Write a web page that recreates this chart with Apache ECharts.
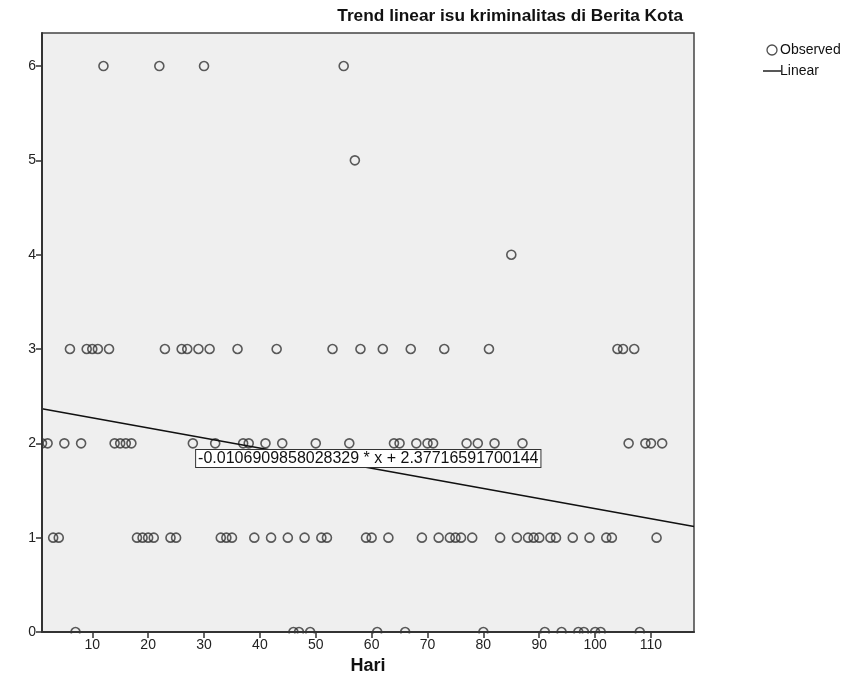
<!DOCTYPE html>
<html>
<head>
<meta charset="utf-8">
<script src="https://cdn.jsdelivr.net/npm/echarts@6/dist/echarts.min.js"></script>
<style>
html,body{margin:0;padding:0;background:#fff;}
#chart{width:852px;height:696px;}
</style>
</head>
<body>
<div id="chart"></div>
<script>
// ---- data ----
const days = [1,2,3,4,5,6,7,8,9,10,11,12,13,14,15,16,17,18,19,20,21,22,23,24,25,26,27,28,29,30,31,32,33,34,35,36,37,38,39,41,42,43,44,45,46,47,48,49,50,51,52,53,55,56,57,58,59,60,61,62,63,64,65,66,67,68,69,70,71,72,73,74,75,76,77,78,79,80,81,82,83,85,86,87,88,89,90,91,92,93,94,96,97,98,99,100,101,102,103,104,105,106,107,108,109,110,111,112];
const counts = [2,2,1,1,2,3,0,2,3,3,3,6,3,2,2,2,2,1,1,1,1,6,3,1,1,3,3,2,3,6,3,2,1,1,1,3,2,2,1,2,1,3,2,1,0,0,1,0,2,1,1,3,6,2,5,3,1,1,0,3,1,2,2,0,3,2,1,2,2,1,3,1,1,1,2,1,2,0,3,2,1,4,1,2,1,1,1,0,1,1,0,1,0,0,1,0,0,1,1,3,3,2,3,0,2,2,1,2];
const xTicks = [10,20,30,40,50,60,70,80,90,100,110];
const yTicks = [0,1,2,3,4,5,6];
const slope = [-0.0106909858028329];
const intercept = [2.37716591700144];
const xRange = [1, 117.7];
const yRange = [0, 6.35];
const titleText = 'Trend linear isu kriminalitas di Berita Kota';
const xName = 'Hari';
const seriesNames = ['Observed', 'Linear'];
const equationText = slope[0].toString() + ' * x + ' + intercept[0].toString();

const points = days.map((d, i) => [d, counts[i]]);
const lineData = xRange.map(x => [x, intercept[0] + slope[0] * x]);

const FONT = 'Liberation Sans, Arial, sans-serif';
const chart = echarts.init(document.getElementById('chart'), null, {renderer: 'canvas'});
chart.setOption({
  animation: false,
  backgroundColor: '#ffffff',
  textStyle: {fontFamily: FONT},
  title: {
    text: titleText,
    right: 164, top: 3,
    textStyle: {fontFamily: FONT, fontSize: 17.3, fontWeight: 'bold', color: '#111'}
  },
  legend: {
    orient: 'vertical',
    left: 758, top: 38,
    itemGap: 7,
    itemWidth: 18, itemHeight: 10,
    textStyle: {fontFamily: FONT, fontSize: 14, color: '#111', padding: [0,0,0,-6]},
    data: [
      {name: seriesNames[0], icon: 'circle', itemStyle: {color: 'transparent', borderColor: '#222', borderWidth: 1.3}},
      {name: seriesNames[1], icon: 'path://M0,0 M0,4.3 L18,4.3 L18,5.7 L0,5.7 Z M18,10', itemStyle: {color: '#111'}}
    ]
  },
  grid: {
    left: 42, right: 158, top: 33, bottom: 64,
    show: true, backgroundColor: '#efefef', borderColor: '#444', borderWidth: 1.5
  },
  graphic: [
    {type: 'rect', silent: true, z: 5, shape: {x: 0, y: 633.5, width: 852, height: 8}, style: {fill: '#ffffff'}},
    {type: 'rect', silent: true, z: 5, shape: {x: 0, y: 30, width: 41.2, height: 612}, style: {fill: '#ffffff'}}
  ],
  xAxis: {
    type: 'value', min: xRange[0], max: xRange[1], z: 10,
    name: xName, nameLocation: 'middle', nameGap: 22,
    nameTextStyle: {fontFamily: FONT, fontSize: 18, fontWeight: 'bold', color: '#111'},
    axisLine: {show: true, onZero: false, lineStyle: {color: '#333', width: 2}},
    axisTick: {show: true, length: 6, inside: false, customValues: xTicks, lineStyle: {color: '#333', width: 1.5}},
    axisLabel: {customValues: xTicks, fontFamily: FONT, fontSize: 14, color: '#222', margin: 6},
    splitLine: {show: false}
  },
  yAxis: {
    type: 'value', min: yRange[0], max: yRange[1], z: 10,
    axisLine: {show: true, onZero: false, lineStyle: {color: '#333', width: 2}},
    axisTick: {show: true, length: 6, customValues: yTicks, lineStyle: {color: '#333', width: 1.5}},
    axisLabel: {customValues: yTicks, fontFamily: FONT, fontSize: 14, color: '#222', margin: 6},
    splitLine: {show: false}
  },
  series: [
    {
      name: seriesNames[0], type: 'scatter', data: points,
      symbol: 'circle', symbolSize: 9, clip: true, z: 2,
      itemStyle: {color: 'rgba(0,0,0,0)', borderColor: '#333', borderWidth: 1.6},
      emphasis: {disabled: true}
    },
    {
      name: seriesNames[1], type: 'line', data: lineData, showSymbol: false, symbol: 'none',
      lineStyle: {color: '#111', width: 1.6}, itemStyle: {color: '#111'},
      clip: true, z: 3,
      markPoint: {
        symbol: 'rect', symbolSize: 1,
        itemStyle: {color: 'transparent'},
        data: [{coord: [59.4, 1.84], value: equationText}],
        label: {
          show: true, position: 'inside', formatter: equationText,
          fontFamily: FONT, fontSize: 16, color: '#111',
          backgroundColor: '#ffffff', borderColor: '#333', borderWidth: 1,
          padding: [1, 2, 0, 2]
        }
      }
    }
  ]
});
</script>
</body>
</html>
